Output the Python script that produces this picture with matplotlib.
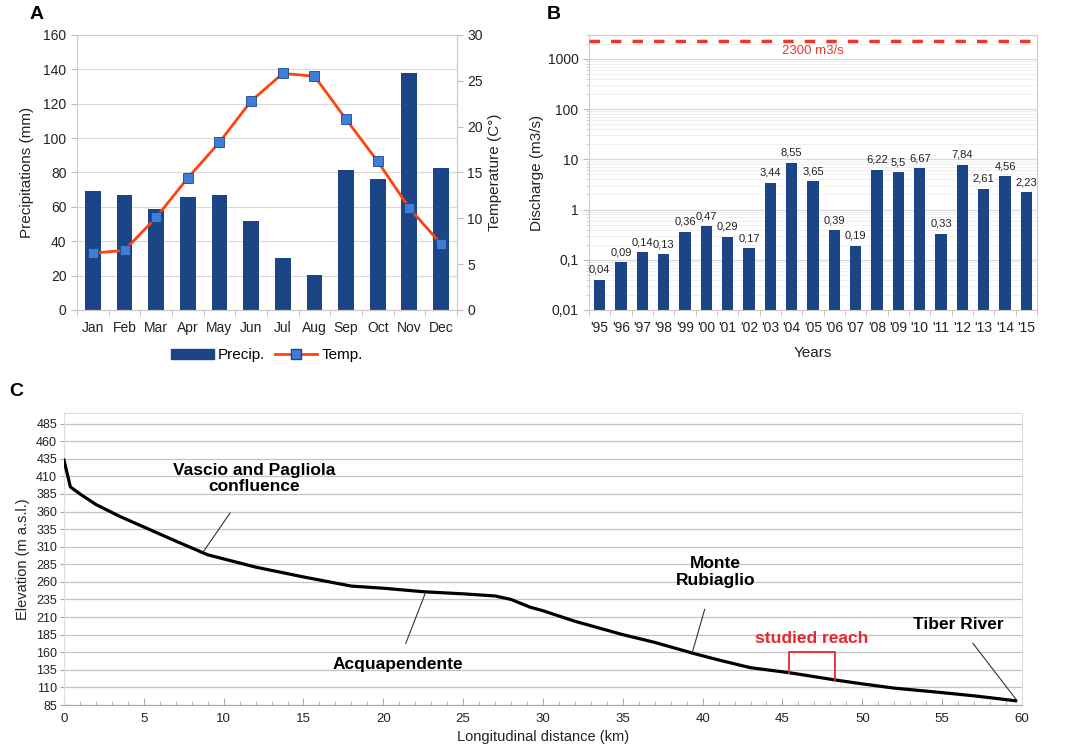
import numpy as np
import matplotlib
matplotlib.use("Agg")
import matplotlib.pyplot as plt
from matplotlib.lines import Line2D
from matplotlib.patches import Patch
from matplotlib.ticker import FixedLocator, NullFormatter, LogLocator

plt.rcParams['font.family'] = ['Liberation Sans', 'DejaVu Sans']

# Panel A data
months = ["Jan", "Feb", "Mar", "Apr", "May", "Jun", "Jul", "Aug", "Sep", "Oct", "Nov", "Dec"]
precip = [69, 67, 59, 65.5, 67, 52, 30, 20.5, 81.5, 76, 138, 82.5]
temp = [6.2, 6.5, 10.1, 14.4, 18.3, 22.8, 25.8, 25.5, 20.8, 16.2, 11.1, 7.2]

# Panel B data
years = ["'95", "'96", "'97", "'98", "'99", "'00", "'01", "'02", "'03", "'04", "'05",
         "'06", "'07", "'08", "'09", "'10", "'11", "'12", "'13", "'14", "'15"]
discharge = [0.04, 0.09, 0.14, 0.13, 0.36, 0.47, 0.29, 0.17, 3.44, 8.55, 3.65,
             0.39, 0.19, 6.22, 5.5, 6.67, 0.33, 7.84, 2.61, 4.56, 2.23]
flood_peak = 2300

# Panel C data
dist_km = [0, 0.4, 1.0, 2, 3.5, 5, 7, 9, 12, 15, 18, 20, 22.5, 25, 27, 28, 29.2, 30,
           32, 35, 37, 39.4, 41, 43, 45.4, 48.3, 50, 52, 55, 57, 58, 59.6]
elev_m = [433, 395, 385, 370, 353, 338, 318, 298.5, 281, 267, 254, 251, 246, 243, 240,
          235, 224, 219, 204, 185, 174, 158.5, 149, 138, 131, 120.6, 115, 109, 102.6, 98, 95.4, 91]
reach = [45.4, 48.3]

blue = "#1c4587"
red = "#ff420e"
grid_c = "#d9d9d9"
txt = "#222222"

fig = plt.figure(figsize=(10.7, 7.5), dpi=100)

# ---------- A ----------
axA = fig.add_axes([0.072, 0.5867, 0.355, 0.3667])
x = np.arange(len(months))
axA.bar(x, precip, width=0.5, color=blue, zorder=2)
axA.set_xlim(-0.5, len(months) - 0.5)
axA.set_ylim(0, 160)
axA.set_yticks(range(0, 161, 20))
axA.set_xticks(x)
axA.set_xticklabels(months)
axA.xaxis.set_minor_locator(FixedLocator(np.arange(-0.5, len(months), 1)))
axA.tick_params(axis='x', which='major', length=0, pad=8)
axA.tick_params(axis='x', which='minor', length=4, color="#bbbbbb")
axA.tick_params(axis='y', length=4, color="#bbbbbb", labelsize=10, labelcolor=txt)
axA.tick_params(axis='x', labelsize=10, labelcolor=txt)
axA.grid(axis='y', color=grid_c, lw=0.8, zorder=0)
axA.set_axisbelow(True)
for s in axA.spines.values():
    s.set_color("#cccccc")
axA.set_ylabel("Precipitations (mm)", fontsize=11, color=txt, labelpad=7)

axT = axA.twinx()
axT.plot(x, temp, color=red, lw=2, marker='s', ms=7, mfc="#3d7fd6", mec="#1c4587", mew=0.6, zorder=3)
axT.set_ylim(0, 30)
axT.set_yticks(range(0, 31, 5))
axT.tick_params(axis='y', length=4, color="#bbbbbb", labelsize=10, labelcolor=txt)
for s in axT.spines.values():
    s.set_color("#cccccc")
axT.set_ylabel("Temperature (C°)", fontsize=11, color=txt)

handles = [Patch(color=blue, label="Precip."),
           Line2D([0], [0], color=red, lw=2, marker='s', ms=7, mfc="#3d7fd6", mec=blue, label="Temp.")]
axA.legend(handles=handles, loc='upper center', bbox_to_anchor=(0.5, -0.09), ncol=2,
           frameon=False, fontsize=11, handlelength=2.8, columnspacing=0.6, handletextpad=0.3)

fig.text(0.028, 0.992, "A", fontsize=14, fontweight='bold', va='top')

# ---------- B ----------
axB = fig.add_axes([0.5505, 0.5867, 0.4187, 0.3667])
xb = np.arange(len(years))
axB.bar(xb, discharge, width=0.52, color=blue, zorder=2)
axB.set_yscale('log')
axB.set_ylim(0.01, 3000)
axB.set_xlim(-0.5, len(years) - 0.5)
axB.set_yticks([0.01, 0.1, 1, 10, 100, 1000])
axB.set_yticklabels(["0,01", "0,1", "1", "10", "100", "1000"])
axB.yaxis.set_minor_locator(LogLocator(base=10, subs=np.arange(2, 10)))
axB.yaxis.set_minor_formatter(NullFormatter())
axB.grid(axis='y', which='major', color=grid_c, lw=0.9, zorder=0)
axB.grid(axis='y', which='minor', color="#eeeeee", lw=0.6, zorder=0)
axB.set_axisbelow(True)
axB.set_xticks(xb)
axB.set_xticklabels(years)
axB.xaxis.set_minor_locator(FixedLocator(np.arange(-0.5, len(years), 1)))
axB.tick_params(axis='x', which='major', length=0, pad=8, labelsize=10, labelcolor=txt)
axB.tick_params(axis='x', which='minor', length=4, color="#bbbbbb")
axB.tick_params(axis='y', which='major', length=4, color="#bbbbbb", labelsize=10, labelcolor=txt)
axB.tick_params(axis='y', which='minor', length=2.5, color="#cccccc")
for s in axB.spines.values():
    s.set_color("#cccccc")
for xi, v in zip(xb, discharge):
    axB.text(xi, v * 1.25, f"{v:g}".replace(".", ","), ha='center', va='bottom', fontsize=8, color=txt)
axB.axhline(flood_peak, color="#e8392a", lw=2.5, ls=(0, (3, 3.2)), zorder=3)
axB.text(10, flood_peak * 0.82, "2300 m3/s", color="#e8392a", fontsize=9.5, ha='center', va='top')
axB.set_ylabel("Discharge (m3/s)", fontsize=11, color=txt, labelpad=3)
axB.set_xlabel("Years", fontsize=11, color=txt, labelpad=8)

fig.text(0.511, 0.992, "B", fontsize=14, fontweight='bold', va='top')

# ---------- C ----------
axC = fig.add_axes([0.0598, 0.06, 0.8953, 0.3893])
axC.plot(dist_km, elev_m, color='black', lw=2.3, zorder=3)
axC.set_xlim(0, 60)
axC.set_ylim(85, 500)
axC.set_yticks(range(85, 486, 25))
axC.set_xticks(range(0, 61, 5))
axC.xaxis.set_minor_locator(FixedLocator(range(0, 61, 1)))
axC.grid(axis='y', color="#c4c4c4", lw=0.9, zorder=0)
axC.set_axisbelow(True)
axC.tick_params(axis='x', which='major', direction='in', length=5, color="#aaaaaa",
                labelsize=9.5, labelcolor=txt, pad=6)
axC.tick_params(axis='x', which='minor', direction='in', length=3, color="#aaaaaa")
axC.tick_params(axis='y', length=3, color="#aaaaaa", labelsize=9, labelcolor=txt, pad=2)
for s in axC.spines.values():
    s.set_color("#dddddd")
axC.spines['bottom'].set_color("#aaaaaa")
axC.set_ylabel("Elevation (m a.s.l.)", fontsize=10.5, color=txt, labelpad=4)
axC.set_xlabel("Longitudinal distance (km)", fontsize=10.5, color=txt, labelpad=3)

ann = dict(fontsize=12.5, fontweight='bold', ha='center', va='center', color='black')
line = dict(arrowstyle='-', color='#333333', lw=0.8, shrinkA=0, shrinkB=0)
axC.annotate("Vascio and Pagliola\nconfluence", xy=(8.7, 302), xytext=(11.9, 407),
             arrowprops=dict(line, shrinkA=14), linespacing=1.1, **ann)
axC.annotate("Acquapendente", xy=(22.65, 245), xytext=(20.9, 143),
             arrowprops=dict(line, shrinkA=8), **ann)
axC.annotate("Monte\nRubiaglio", xy=(39.35, 159.5), xytext=(40.8, 274),
             arrowprops=dict(line, shrinkA=14), linespacing=1.1, **ann)
axC.annotate("Tiber River", xy=(59.7, 91), xytext=(56, 200),
             arrowprops=dict(line, shrinkA=8), **ann)

r0 = np.interp(reach[0], dist_km, elev_m)
r1 = np.interp(reach[1], dist_km, elev_m)
axC.plot([reach[0], reach[0], reach[1], reach[1]], [r0, 160, 160, r1], color="#e8262d", lw=1.3, zorder=4)
axC.text(np.mean(reach), 180, "studied reach", color="#e8262d", fontsize=12.5,
         fontweight='bold', ha='center', va='center')

fig.text(0.009, 0.49, "C", fontsize=14, fontweight='bold', va='top')

fig.savefig("out.png", dpi=100)
